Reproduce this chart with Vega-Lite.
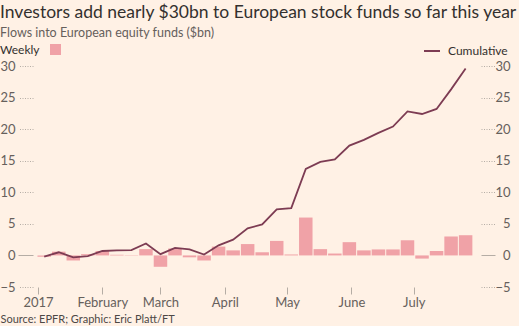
{
  "$schema": "https://vega.github.io/schema/vega-lite/v6.json",
  "width": 448,
  "height": 221,
  "autosize": {"type": "none"},
  "padding": {"left": 33, "top": 66, "right": 38, "bottom": 39},
  "background": "#fff1e5",
  "config": {"view": {"stroke": null}, "font": "Lato"},
  "title": {
    "text": "Investors add nearly $30bn to European stock funds so far this year",
    "subtitle": "Flows into European equity funds ($bn)",
    "anchor": "start",
    "frame": "group",
    "dx": -33,
    "offset": 3,
    "font": "Lato",
    "fontSize": 17.5,
    "fontWeight": "normal",
    "color": "#33302e",
    "subtitleFont": "Lato",
    "subtitleFontSize": 12.5,
    "subtitleColor": "#66605c",
    "subtitlePadding": 5
  },
  "data": {
    "values": [
      {"date": "2017-01-04", "weekly": -0.2, "cumulative": -0.2},
      {"date": "2017-01-11", "weekly": 0.6, "cumulative": 0.5},
      {"date": "2017-01-18", "weekly": -0.8, "cumulative": -0.3},
      {"date": "2017-01-25", "weekly": 0.2, "cumulative": -0.1},
      {"date": "2017-02-01", "weekly": 0.7, "cumulative": 0.7},
      {"date": "2017-02-08", "weekly": 0.1, "cumulative": 0.8},
      {"date": "2017-02-15", "weekly": 0.05, "cumulative": 0.85},
      {"date": "2017-02-22", "weekly": 1.0, "cumulative": 1.9},
      {"date": "2017-03-01", "weekly": -1.8, "cumulative": 0.2},
      {"date": "2017-03-08", "weekly": 1.1, "cumulative": 1.2},
      {"date": "2017-03-15", "weekly": -0.3, "cumulative": 0.95},
      {"date": "2017-03-22", "weekly": -0.8, "cumulative": 0.15},
      {"date": "2017-03-29", "weekly": 1.4, "cumulative": 1.6},
      {"date": "2017-04-05", "weekly": 0.8, "cumulative": 2.5},
      {"date": "2017-04-12", "weekly": 1.8, "cumulative": 4.3},
      {"date": "2017-04-19", "weekly": 0.5, "cumulative": 4.9},
      {"date": "2017-04-26", "weekly": 2.3, "cumulative": 7.3},
      {"date": "2017-05-03", "weekly": 0.15, "cumulative": 7.5},
      {"date": "2017-05-10", "weekly": 6.0, "cumulative": 13.7},
      {"date": "2017-05-17", "weekly": 1.0, "cumulative": 14.8},
      {"date": "2017-05-24", "weekly": 0.3, "cumulative": 15.2},
      {"date": "2017-05-31", "weekly": 2.1, "cumulative": 17.4},
      {"date": "2017-06-07", "weekly": 0.8, "cumulative": 18.3},
      {"date": "2017-06-14", "weekly": 0.95, "cumulative": 19.4},
      {"date": "2017-06-21", "weekly": 0.95, "cumulative": 20.4},
      {"date": "2017-06-28", "weekly": 2.4, "cumulative": 22.8},
      {"date": "2017-07-05", "weekly": -0.5, "cumulative": 22.4},
      {"date": "2017-07-12", "weekly": 0.7, "cumulative": 23.2},
      {"date": "2017-07-19", "weekly": 3.0, "cumulative": 26.3},
      {"date": "2017-07-26", "weekly": 3.2, "cumulative": 29.6}
    ]
  },
  "layer": [
    {
      "mark": {"type": "bar", "width": 13.5},
      "encoding": {
        "x": {
          "field": "date",
          "type": "temporal",
          "scale": {
            "type": "utc",
            "domain": [
              {"year": 2017, "month": 1, "date": 1, "utc": true},
              {"year": 2017, "month": 7, "date": 31, "utc": true}
            ]
          },
          "axis": {
            "values": [
              {"year": 2017, "month": 1, "date": 1, "utc": true},
              {"year": 2017, "month": 2, "date": 1, "utc": true},
              {"year": 2017, "month": 3, "date": 1, "utc": true},
              {"year": 2017, "month": 4, "date": 1, "utc": true},
              {"year": 2017, "month": 5, "date": 1, "utc": true},
              {"year": 2017, "month": 6, "date": 1, "utc": true},
              {"year": 2017, "month": 7, "date": 1, "utc": true}
            ],
            "labelExpr": "utcmonth(datum.value) == 0 ? '2017' : utcFormat(datum.value, '%B')",
            "domain": false,
            "grid": false,
            "tickSize": 7,
            "tickColor": "#b5ada5",
            "labelFontSize": 13,
            "labelColor": "#66605c",
            "labelPadding": 2,
            "title": "Source: EPFR; Graphic: Eric Platt/FT",
            "titleX": -33,
            "titleY": 35,
            "titleAlign": "left",
            "titleAnchor": "start",
            "titleBaseline": "alphabetic",
            "titleFontSize": 11,
            "titleFontWeight": "normal",
            "titleColor": "#4d4845"
          }
        },
        "y": {
          "field": "weekly",
          "type": "quantitative",
          "scale": {"domain": [-5, 30], "nice": false, "zero": false},
          "axis": {
            "orient": "left",
            "values": [-5, 0, 5, 10, 15, 20, 25, 30],
            "domain": false,
            "grid": false,
            "tickSize": 15,
            "tickColor": "#b5ada5",
            "tickDash": {"condition": {"test": "datum.value === 0", "value": []}, "value": [1, 1.5]},
            "labelFontSize": 13,
            "labelColor": "#66605c",
            "labelPadding": 3,
            "title": null
          }
        },
        "color": {
          "datum": "Weekly",
          "scale": {"range": ["#f0a2a7"]},
          "legend": {
            "orient": "none",
            "legendX": -33,
            "legendY": -22,
            "title": "Weekly",
            "titleOrient": "left",
            "titleFontSize": 12,
            "titleFontWeight": "normal",
            "titleColor": "#33302e",
            "titlePadding": 10,
            "labelExpr": "''",
            "symbolType": "square",
            "symbolSize": 121,
            "symbolStrokeWidth": 0,
            "symbolOpacity": 1
          }
        }
      }
    },
    {
      "mark": {"type": "line", "strokeWidth": 1.8},
      "encoding": {
        "x": {"field": "date", "type": "temporal"},
        "y": {
          "field": "cumulative",
          "type": "quantitative",
          "scale": {"domain": [-5, 30], "nice": false, "zero": false},
          "axis": {
            "orient": "right",
            "values": [-5, 0, 5, 10, 15, 20, 25, 30],
            "domain": false,
            "grid": false,
            "tickSize": 14,
            "tickColor": "#b5ada5",
            "tickDash": {"condition": {"test": "datum.value === 0", "value": []}, "value": [1, 1.5]},
            "labelFontSize": 13,
            "labelColor": "#66605c",
            "labelAlign": "right",
            "labelPadding": 15,
            "title": null
          }
        },
        "color": {
          "datum": "Cumulative",
          "scale": {"range": ["#7d3c53"]},
          "legend": {
            "orient": "none",
            "legendX": 390,
            "legendY": -24,
            "title": null,
            "symbolType": "stroke",
            "symbolSize": 256,
            "symbolStrokeWidth": 2,
            "labelFontSize": 12,
            "labelColor": "#33302e",
            "labelOffset": 7
          }
        }
      }
    }
  ],
  "resolve": {"scale": {"y": "independent", "color": "independent"}}
}
